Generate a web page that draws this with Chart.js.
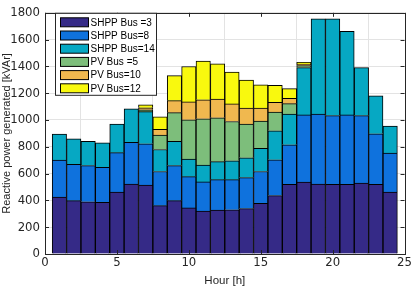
<!DOCTYPE html>
<html>
<head>
<meta charset="utf-8">
<script src="https://cdn.jsdelivr.net/npm/chart.js@4.4.0/dist/chart.umd.min.js"></script>
<style>
html, body { margin: 0; padding: 0; background: #fff; }
#wrap { width: 413px; height: 288px; }
</style>
</head>
<body>
<div id="wrap"><canvas id="chart" width="413" height="288"></canvas></div>
<script>
// Heures (axe x)
const hours = [1, 2, 3, 4, 5, 6, 7, 8, 9, 10, 11, 12, 13, 14, 15, 16, 17, 18, 19, 20, 21, 22, 23, 24];

// Puissance réactive par source [kVAr] (valeurs empilées)
const shppBus3  = [424, 398, 390, 385, 463, 521, 514, 361, 398, 344, 320, 327, 330, 339, 378, 436, 519, 536, 521, 519, 519, 529, 519, 463];
const shppBus8  = [276, 271, 270, 262, 293, 313, 308, 255, 262, 233, 218, 228, 225, 231, 238, 267, 296, 502, 524, 514, 519, 504, 378, 291];
const shppBus14 = [195, 191, 181, 182, 214, 250, 240, 164, 181, 131, 126, 134, 141, 148, 172, 216, 230, 353, 710, 722, 623, 358, 284, 201];
const pvBus5    = [0, 0, 0, 0, 0, 0, 14, 107, 214, 293, 345, 327, 293, 252, 204, 140, 77, 15, 0, 0, 0, 0, 0, 0];
const pvBus10   = [0, 0, 0, 0, 0, 0, 15, 44, 89, 134, 142, 140, 131, 119, 97, 73, 39, 12, 0, 0, 0, 0, 0, 0];
const pvBus12   = [0, 0, 0, 0, 0, 0, 22, 92, 187, 264, 289, 264, 238, 208, 174, 126, 73, 12, 0, 0, 0, 0, 0, 0];

const seriesNames = ['SHPP Bus =3', 'SHPP Bus=8', 'SHPP Bus=14', 'PV Bus =5', 'PV Bus=10', 'PV Bus=12'];
const seriesColors = ['#352a87', '#0f72dd', '#06a8c3', '#7dbe7b', '#f0b84f', '#f9f90e'];
const seriesValues = [shppBus3, shppBus8, shppBus14, pvBus5, pvBus10, pvBus12];

const xTicks = [0, 5, 10, 15, 20, 25];
const yTicks = [0, 200, 400, 600, 800, 1000, 1200, 1400, 1600, 1800];

const FONT = 'Liberation Sans, Arial, sans-serif';
const NARROW = '"Liberation Sans Narrow", "DejaVu Sans Condensed", Arial, sans-serif';
const AXIS_COLOR = '#262626';

// Cadre + petites graduations vers l'intérieur (style MATLAB)
const boxPlugin = {
    id: 'box',
    afterDraw(chart) {
        const ctx = chart.ctx;
        const a = chart.chartArea;
        const xs = chart.scales.x;
        const ys = chart.scales.y;
        ctx.save();
        ctx.strokeStyle = AXIS_COLOR;
        ctx.lineWidth = 1;
        ctx.beginPath();
        xTicks.forEach(v => {
            const px = Math.round(xs.getPixelForValue(v)) + 0.5;
            ctx.moveTo(px, a.bottom); ctx.lineTo(px, a.bottom - 4);
            ctx.moveTo(px, a.top); ctx.lineTo(px, a.top + 4);
        });
        yTicks.forEach(v => {
            const py = Math.round(ys.getPixelForValue(v)) + 0.5;
            ctx.moveTo(a.left, py); ctx.lineTo(a.left + 4, py);
            ctx.moveTo(a.right, py); ctx.lineTo(a.right - 4, py);
        });
        ctx.stroke();
        ctx.strokeRect(Math.round(a.left) + 0.5, Math.round(a.top) + 0.5,
            Math.round(a.right - a.left), Math.round(a.bottom - a.top));
        ctx.restore();
    }
};

// Légende dessinée à l'intérieur du graphique, en haut à gauche
const insideLegend = {
    id: 'insideLegend',
    afterDraw(chart) {
        const ctx = chart.ctx;
        const a = chart.chartArea;
        const x0 = a.left + 10.5, y0 = a.top + 0.5;
        const w = 101, rowH = 13.2;
        const h = 82;
        ctx.save();
        ctx.fillStyle = '#fff';
        ctx.fillRect(x0, y0, w, h);
        ctx.strokeStyle = AXIS_COLOR;
        ctx.lineWidth = 1;
        ctx.strokeRect(x0, y0, w, h);
        ctx.font = '10px ' + FONT;
        ctx.textBaseline = 'middle';
        chart.data.datasets.forEach((ds, i) => {
            const cy = y0 + 9 + i * rowH;
            ctx.fillStyle = ds.backgroundColor;
            ctx.fillRect(x0 + 5, cy - 4.5, 28, 9);
            ctx.strokeStyle = '#000';
            ctx.strokeRect(x0 + 5, cy - 4.5, 28, 9);
            ctx.fillStyle = '#000';
            ctx.fillText(ds.label, x0 + 35, cy + 0.5);
        });
        ctx.restore();
    }
};

const ctx = document.getElementById('chart');
new Chart(ctx, {
    type: 'bar',
    data: {
        datasets: seriesNames.map((name, i) => ({
            label: name,
            data: hours.map((h, j) => ({ x: h, y: seriesValues[i][j] })),
            backgroundColor: seriesColors[i],
            borderColor: '#000',
            borderWidth: 1,
            barPercentage: 1,
            categoryPercentage: 1,
        }))
    },
    options: {
        responsive: false,
        animation: false,
        layout: { padding: { top: 6, right: 7, left: 0, bottom: 0 } },
        plugins: {
            legend: { display: false },
            tooltip: { enabled: false },
        },
        scales: {
            x: {
                type: 'linear',
                stacked: true,
                min: 0,
                max: 25,
                offset: false,
                afterBuildTicks: s => { s.ticks = xTicks.map(v => ({ value: v })); },
                afterFit: s => { s.height = 34; },
                ticks: { color: AXIS_COLOR, font: { family: NARROW, size: 13 }, padding: 1, maxRotation: 0, callback: v => String(v) },
                grid: { color: '#e3e3e3', drawTicks: false },
                border: { display: false },
                title: { display: true, text: 'Hour [h]', color: AXIS_COLOR, font: { family: FONT, size: 11.5 }, padding: { top: 0, bottom: 0 } },
            },
            y: {
                stacked: true,
                min: 0,
                max: 1800,
                afterBuildTicks: s => { s.ticks = yTicks.map(v => ({ value: v })); },
                afterFit: s => { s.width = 45; },
                ticks: { color: AXIS_COLOR, font: { family: NARROW, size: 13 }, padding: 5, callback: v => String(v) },
                grid: { color: '#e3e3e3', drawTicks: false },
                border: { display: false },
                title: { display: true, text: 'Reactive power generated [kVAr]', color: AXIS_COLOR, font: { family: FONT, size: 11 }, padding: { top: 0, bottom: 0 } },
            }
        }
    },
    plugins: [boxPlugin, insideLegend]
});
</script>
</body>
</html>
